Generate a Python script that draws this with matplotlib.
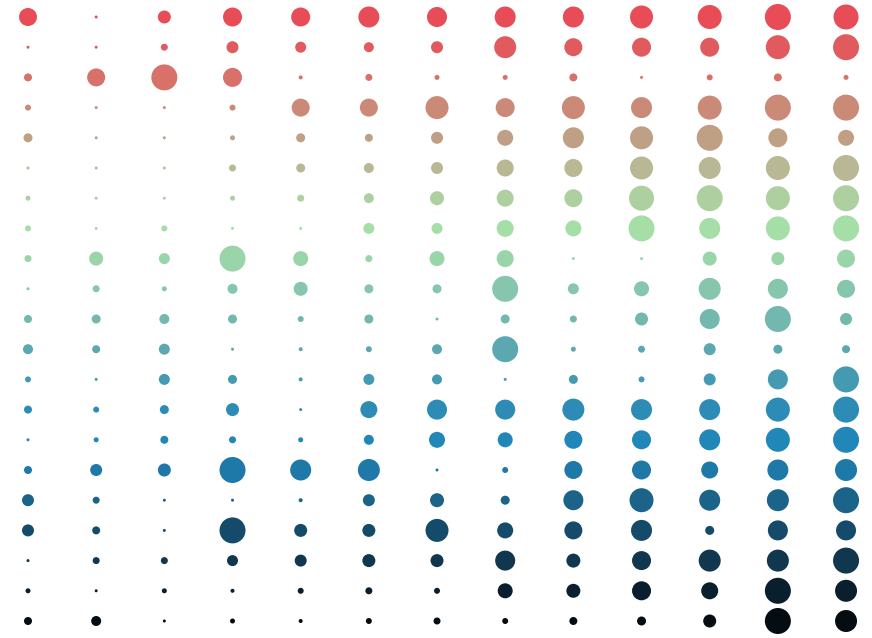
import numpy as np
import matplotlib
matplotlib.use("Agg")
import matplotlib.pyplot as plt

# one list per row (top to bottom), 13 columns each
values = [
    [18, 3, 13, 19, 19, 21, 20, 21, 21, 23, 24, 26, 25],
    [3, 3, 7, 12, 11, 10, 12, 22, 18, 19, 19, 24, 26],
    [8, 18, 26, 19, 4, 7, 5, 5, 8, 3, 6, 8, 5],
    [6, 3, 3, 6, 18, 18, 23, 19, 23, 21, 24, 26, 26],
    [9, 3, 3, 5, 9, 8, 12, 16, 21, 23, 26, 19, 16],
    [3, 3, 3, 7, 9, 10, 12, 17, 18, 23, 22, 24, 26],
    [5, 3, 3, 5, 7, 10, 14, 17, 18, 25, 26, 24, 26],
    [6, 3, 6, 3, 3, 11, 11, 17, 16, 26, 21, 24, 26],
    [7, 14, 11, 26, 15, 7, 15, 17, 3, 3, 14, 13, 18],
    [3, 7, 5, 10, 14, 9, 9, 26, 11, 15, 22, 20, 18],
    [8, 9, 10, 9, 6, 9, 3, 9, 7, 13, 20, 26, 12],
    [10, 8, 11, 3, 4, 6, 10, 26, 5, 7, 12, 9, 8],
    [6, 3, 11, 9, 4, 11, 10, 3, 9, 6, 12, 20, 26],
    [8, 6, 9, 13, 3, 17, 20, 20, 22, 21, 21, 24, 26],
    [3, 5, 8, 7, 5, 10, 16, 15, 18, 19, 21, 24, 26],
    [8, 12, 13, 26, 21, 22, 3, 6, 18, 19, 17, 21, 22],
    [12, 7, 3, 3, 4, 12, 14, 9, 20, 24, 21, 22, 26],
    [12, 8, 3, 26, 13, 13, 23, 16, 18, 21, 9, 20, 20],
    [3, 7, 7, 11, 12, 13, 13, 20, 14, 19, 22, 22, 26],
    [5, 3, 5, 4, 6, 7, 6, 15, 14, 19, 17, 26, 22],
    [8, 10, 3, 5, 4, 6, 7, 6, 8, 9, 13, 26, 22],
]

row_colors = [
    "#e84c57", "#e15b5e", "#d8716a", "#cb8a78", "#c0a084", "#b8b894",
    "#aed0a0", "#a6dea8", "#9ad4a9", "#86c6ad", "#72b8ae", "#5ba8b0",
    "#449ab0", "#2c8cb6", "#2186b8", "#1e78a8", "#1b6388", "#154b6a",
    "#10374e", "#0a1f2e", "#050d12",
]

n_rows = len(values)
n_cols = len(values[0])

fig = plt.figure(figsize=(8.72, 6.38), dpi=100)
ax = fig.add_axes([0, 0, 1, 1])

px = 72.0 / fig.dpi  # points per pixel
for r in range(n_rows):
    d = np.array(values[r], dtype=float)
    ax.scatter(np.arange(n_cols), np.full(n_cols, r), s=(d * px) ** 2,
               color=row_colors[r], linewidths=0)

col_step = 872 / 68.17
row_step = 638 / 30.2
ax.set_xlim(-28 / 68.17, -28 / 68.17 + col_step)
ax.set_ylim(-17 / 30.2 + row_step, -17 / 30.2)
ax.axis("off")

fig.savefig("out.png", dpi=100, facecolor="white")
